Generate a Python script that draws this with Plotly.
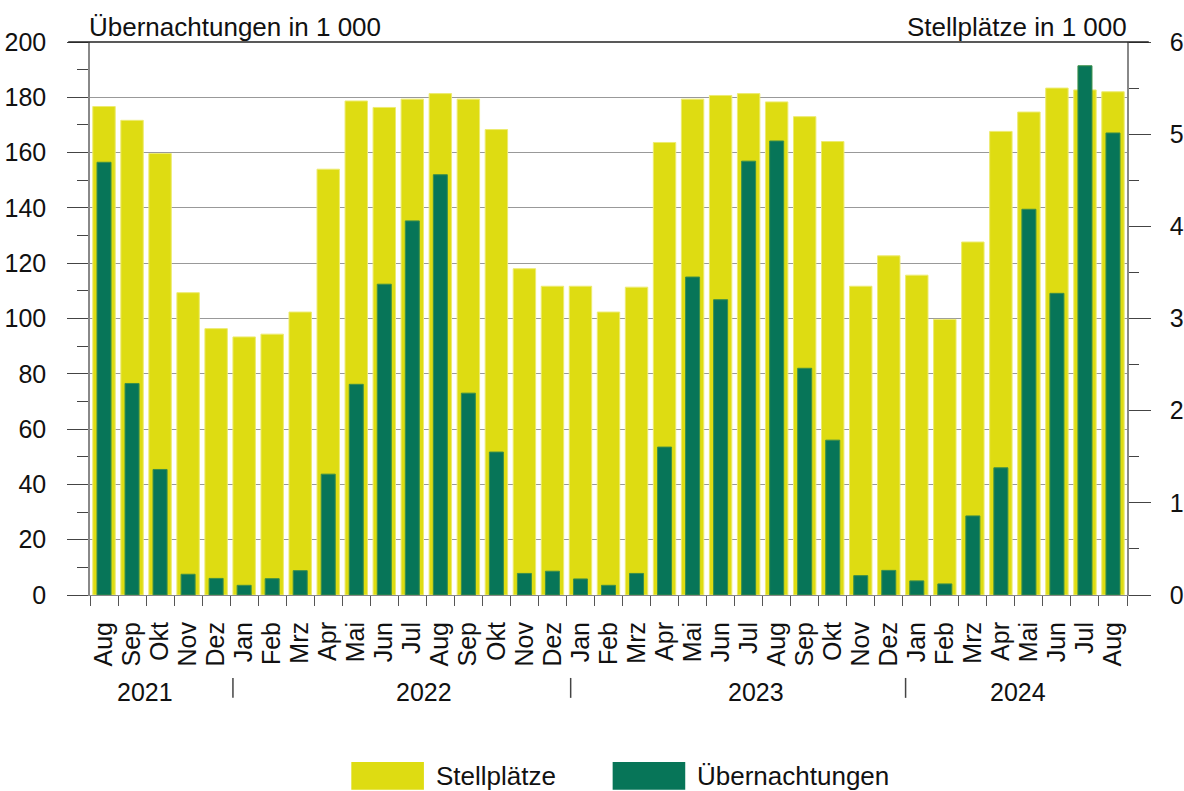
import plotly.graph_objects as go

months = ["Aug", "Sep", "Okt", "Nov", "Dez",
          "Jan", "Feb", "Mrz", "Apr", "Mai", "Jun", "Jul", "Aug", "Sep", "Okt", "Nov", "Dez",
          "Jan", "Feb", "Mrz", "Apr", "Mai", "Jun", "Jul", "Aug", "Sep", "Okt", "Nov", "Dez",
          "Jan", "Feb", "Mrz", "Apr", "Mai", "Jun", "Jul", "Aug"]

stellplaetze = [5.30, 5.15, 4.79, 3.28, 2.89,
                2.80, 2.83, 3.07, 4.62, 5.36, 5.29, 5.38, 5.44, 5.38, 5.05, 3.54, 3.35,
                3.35, 3.07, 3.34, 4.91, 5.38, 5.42, 5.44, 5.35, 5.19, 4.92, 3.35, 3.68,
                3.47, 2.99, 3.83, 5.03, 5.24, 5.50, 5.48, 5.46]

uebernachtungen = [156.5, 76.5, 45.4, 7.5, 6.0,
                   3.5, 5.9, 8.8, 43.7, 76.2, 112.4, 135.3, 152.0, 73.0, 51.7, 7.8, 8.6,
                   5.8, 3.5, 7.8, 53.5, 115.0, 106.8, 156.9, 164.2, 82.0, 56.0, 7.0, 8.9,
                   5.1, 4.0, 28.6, 46.0, 139.5, 109.1, 191.4, 167.1]

years = ["2021", "2022", "2023", "2024"]
year_label_pos = [1.46, 11.4, 23.26, 32.6]
year_separators = [4.6, 16.65, 28.6]

YELLOW = "#DEDC12"
GREEN = "#077558"
FONT = "Liberation Sans, Arial, sans-serif"
FS = 25
FT = 26

x = list(range(len(months)))

fig = go.Figure()
fig.add_trace(go.Bar(x=x, y=stellplaetze, yaxis="y2", width=0.8, name="Stellplätze",
                     marker=dict(color=YELLOW, line=dict(color="#EDEB70", width=1)),
                     showlegend=False))
fig.add_trace(go.Bar(x=x, y=uebernachtungen, yaxis="y", width=0.5, name="Übernachtungen",
                     marker=dict(color=GREEN, line=dict(color="#3C8F4A", width=1)),
                     showlegend=False))

fig.update_layout(
    width=1184, height=791,
    margin=dict(l=90, r=57, t=42, b=196, autoexpand=False),
    paper_bgcolor="white", plot_bgcolor="white",
    barmode="overlay",
    font=dict(family=FONT, size=FS, color="#111"),
    xaxis=dict(range=[-0.5, len(months) - 0.5], tickmode="array", tickvals=x, ticktext=months,
               tickangle=-90, ticks="", showgrid=False, showline=True, linecolor="#888",
               linewidth=1, ticklabelstandoff=16, zeroline=False, automargin=False,
               tickfont=dict(family=FONT, size=FS, color="#111"),
               minor=dict(tickmode="array", tickvals=[i - 0.5 for i in range(len(months) + 1)],
                          ticks="outside", ticklen=10, tickcolor="#555", tickwidth=1, showgrid=False)),
    yaxis2=dict(range=[0, 6], side="right", tickmode="linear", tick0=0, dtick=1,
                showgrid=False, showline=True, linecolor="#888", linewidth=1.5,
                ticks="outside", ticklen=22, tickcolor="#444", tickwidth=1,
                ticklabelstandoff=14, zeroline=False, automargin=False,
                tickfont=dict(family=FONT, size=FS, color="#111"),
                minor=dict(dtick=0.5, ticks="outside", ticklen=10, tickcolor="#444", showgrid=False)),
    yaxis=dict(range=[0, 200], overlaying="y2", side="left", tickmode="linear", tick0=0, dtick=20,
               showgrid=True, gridcolor="#999", gridwidth=1, showline=True, linecolor="#888",
               linewidth=1.5, ticks="outside", ticklen=21, tickcolor="#444", tickwidth=1,
               ticklabelstandoff=16, zeroline=False, automargin=False,
               tickfont=dict(family=FONT, size=FS, color="#111"),
               minor=dict(dtick=10, ticks="outside", ticklen=11, tickcolor="#444", showgrid=False)),
)

# top border line at 200 / 6
fig.add_shape(type="line", xref="paper", yref="paper", x0=-0.021, x1=1.021, y0=1, y1=1,
              line=dict(color="#222", width=1.5))

# axis titles
fig.add_annotation(text="Übernachtungen in 1 000", xref="paper", yref="paper", x=0, y=1.028,
                   xanchor="left", yanchor="middle", showarrow=False, xshift=-3,
                   font=dict(family=FONT, size=FT, color="#111"))
fig.add_annotation(text="Stellplätze in 1 000", xref="paper", yref="paper", x=1, y=1.028,
                   xanchor="right", yanchor="middle", showarrow=False, xshift=2,
                   font=dict(family=FONT, size=FT, color="#111"))

# year labels and separators
for yr, pos in zip(years, year_label_pos):
    fig.add_annotation(text=yr, xref="x", yref="paper", x=pos, y=-0.175, xanchor="center",
                       yanchor="middle", showarrow=False, font=dict(family=FONT, size=FS, color="#111"))
for s in year_separators:
    fig.add_shape(type="line", xref="x", yref="paper", x0=s, x1=s, y0=-0.150, y1=-0.186,
                  line=dict(color="#444", width=1.5))

# custom legend
legend_items = [("Stellplätze", YELLOW, 0.252, 0.322), ("Übernachtungen", GREEN, 0.504, 0.574)]
for name, col, lx0, lx1 in legend_items:
    fig.add_shape(type="rect", xref="paper", yref="paper", x0=lx0, x1=lx1, y0=-0.302, y1=-0.352,
                  fillcolor=col, line=dict(width=0))
    fig.add_annotation(text=name, xref="paper", yref="paper", x=lx1, y=-0.327, xanchor="left",
                       yanchor="middle", xshift=10, showarrow=False,
                       font=dict(family=FONT, size=FT, color="#111"))

fig.write_html("out.html", config={"displayModeBar": False},
               post_script="document.body.style.margin='0';document.body.style.overflow='hidden';")
